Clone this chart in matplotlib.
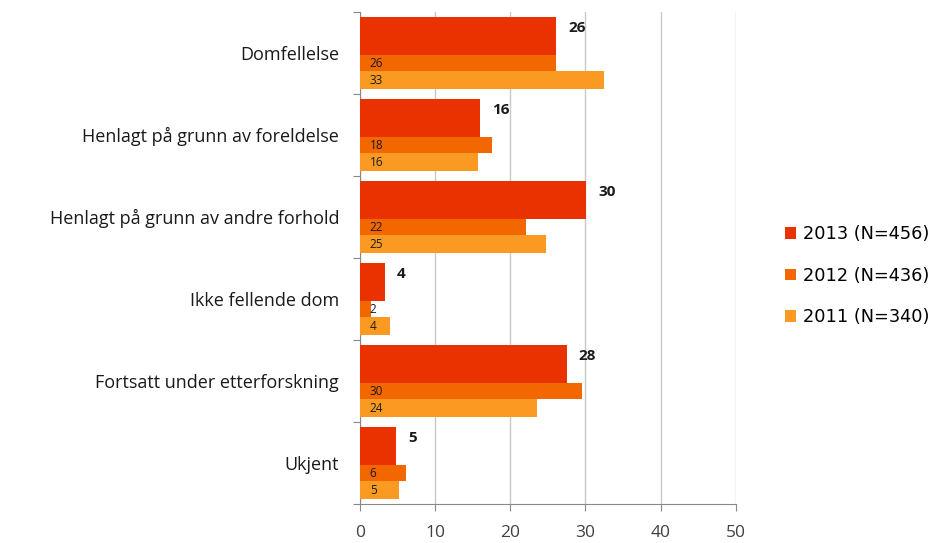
import matplotlib
matplotlib.use("Agg")
import matplotlib.pyplot as plt
import numpy as np
from matplotlib.patches import Patch

categories = ["Domfellelse", "Henlagt på grunn av foreldelse", "Henlagt på grunn av andre forhold",
              "Ikke fellende dom", "Fortsatt under etterforskning", "Ukjent"]
series_names = ["2013 (N=456)", "2012 (N=436)", "2011 (N=340)"]
v2013 = [26.1, 16.0, 30.1, 3.3, 27.5, 4.8]
v2012 = [26.1, 17.6, 22.1, 1.5, 29.6, 6.1]
v2011 = [32.5, 15.7, 24.7, 4.0, 23.5, 5.2]
lab2013 = ["26", "16", "30", "4", "28", "5"]
lab2012 = ["26", "18", "22", "2", "30", "6"]
lab2011 = ["33", "16", "25", "4", "24", "5"]
xticks = [0, 10, 20, 30, 40, 50]

colors = ["#EA3200", "#F26700", "#FA9A22"]

plt.rcParams['font.family'] = ['Open Sans', 'DejaVu Sans']
fig = plt.figure(figsize=(9.35, 5.43), dpi=100)
ax = fig.add_axes([0.385, 0.072, 0.402, 0.906])

n = len(categories)
slots = [(0.06, 0.52), (0.52, 0.72), (0.72, 0.94)]
vals = [v2013, v2012, v2011]
labs = [lab2013, lab2012, lab2011]
for s, (vv, ll) in enumerate(zip(vals, labs)):
    t0, t1 = slots[s]
    for i in range(n):
        top = i + t0
        h = t1 - t0
        ax.barh(top + h / 2, vv[i], height=h, color=colors[s], zorder=3)
        if s == 0:
            ax.text(vv[i] + 1.6, top + 0.14, ll[i], fontsize=11, fontweight='bold',
                    color='#1a1a1a', va='center', ha='left', zorder=4)
        else:
            ax.text(1.3, top + h / 2 + 0.01, ll[i], fontsize=8.5, color='#1a1a1a',
                    va='center', ha='left', zorder=4)

ax.set_ylim(n, 0)
ax.set_xlim(0, 50)
ax.set_xticks(xticks)
ax.set_xticklabels([str(x) for x in xticks], fontsize=12.5, color='#404040')
ax.set_yticks(np.arange(n + 1))
ax.set_yticklabels([])
ax.set_yticks(np.arange(n) + 0.5, minor=True)
ax.set_yticklabels(categories, minor=True, fontsize=13, color='#1a1a1a')
ax.tick_params(axis='y', which='minor', length=0, pad=15)
ax.tick_params(axis='y', which='major', length=5, color='#888888', direction='out')
ax.tick_params(axis='x', length=5, color='#888888', direction='out', pad=10)
ax.grid(axis='x', color='#c8c8c8', linewidth=1, zorder=0)
for sp in ['top', 'right']:
    ax.spines[sp].set_visible(False)
ax.spines['left'].set_color('#888888')
ax.spines['bottom'].set_color('#888888')

handles = [Patch(facecolor=c, edgecolor='none') for c in colors]
fig.legend(handles, series_names, loc='center left', bbox_to_anchor=(0.8225, 0.492),
           frameon=False, prop={'family': 'DejaVu Sans', 'size': 12.8},
           handlelength=0.62, handleheight=0.62,
           labelspacing=1.33, handletextpad=0.4)

fig.savefig("out.png", dpi=100)
